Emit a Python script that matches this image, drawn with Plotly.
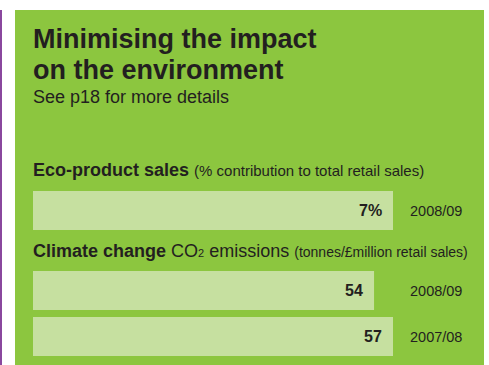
import plotly.graph_objects as go

# Eco-product sales, % contribution to total retail sales
eco_years = ["2008/09"]
eco_share = [7]

# Climate change: CO2 emissions, tonnes per £million retail sales
co2_years = ["2008/09", "2007/08"]
co2_tonnes = [54, 57]

W, H = 489, 365


def fx(px):
    return px / W


def fy(px):
    return 1 - px / H


PANEL = "#8CC63F"
BAR = "#C6E0A0"
INK = "#231F20"
PURPLE = "#8A479E"
FONT = "Liberation Sans, Arial, Helvetica, sans-serif"

fig = go.Figure()
fig.add_trace(go.Bar(
    x=eco_share, y=eco_years, orientation="h", xaxis="x", yaxis="y",
    marker=dict(color=BAR, line=dict(width=0)), hoverinfo="skip",
))
fig.add_trace(go.Bar(
    x=co2_tonnes, y=co2_years, orientation="h", xaxis="x2", yaxis="y2",
    marker=dict(color=BAR, line=dict(width=0)), hoverinfo="skip",
))

axis_off = dict(visible=False, showgrid=False, zeroline=False, fixedrange=True)
year_axis = dict(
    type="category", side="right", anchor="free", position=fx(409),
    showgrid=False, zeroline=False, showline=False, ticks="",
    tickfont=dict(family=FONT, size=14.5, color=INK), fixedrange=True,
)

fig.update_layout(
    width=W, height=H,
    margin=dict(l=0, r=0, t=0, b=0),
    paper_bgcolor="white", plot_bgcolor="rgba(0,0,0,0)",
    showlegend=False, bargap=7 / 46,
    font=dict(family=FONT, color=INK),
    xaxis=dict(domain=[fx(33), fx(393)], range=[0, max(eco_share)], anchor="y", **axis_off),
    xaxis2=dict(domain=[fx(33), fx(393)], range=[0, max(co2_tonnes)], anchor="y2", **axis_off),
    yaxis=dict(domain=[fy(233.5), fy(187.5)], **year_axis),
    yaxis2=dict(domain=[fy(359.5), fy(267.5)], autorange="reversed", **year_axis),
    shapes=[
        dict(type="rect", xref="paper", yref="paper", x0=fx(15), x1=fx(484), y0=0, y1=fy(10),
             fillcolor=PANEL, line=dict(width=0), layer="below"),
        dict(type="rect", xref="paper", yref="paper", x0=0, x1=fx(2), y0=0, y1=fy(10),
             fillcolor=PURPLE, line=dict(width=0), layer="below"),
    ],
)


def header(text, baseline, size):
    # centre of the text box sits ~0.35em above the baseline
    fig.add_annotation(
        text=text, xref="paper", yref="paper", x=fx(31), y=fy(baseline - 0.3465 * size),
        xanchor="left", yanchor="middle", showarrow=False, align="left",
        font=dict(family=FONT, size=size, color=INK),
    )


header("<b>Minimising the impact</b>", 48.5, 27)
header("<b>on the environment</b>", 79.5, 27)
header("See p18 for more details", 103, 18)
header("<b>Eco-product sales</b> <span style='font-size:15px'>(% contribution to total retail sales)</span>", 176, 18)
header("<b>Climate change</b> CO<span style='font-size:11px'>2</span> emissions "
       "<span style='font-size:14px'>(tonnes/£million retail sales)</span>", 257, 18)

# value labels at the end of each bar
for yr, v in zip(eco_years, eco_share):
    fig.add_annotation(x=v, y=yr, xref="x", yref="y", text=f"<b>{v}%</b>", showarrow=False,
                       xanchor="right", xshift=-9, font=dict(family=FONT, size=16, color=INK))
for yr, v in zip(co2_years, co2_tonnes):
    fig.add_annotation(x=v, y=yr, xref="x2", yref="y2", text=f"<b>{v}</b>", showarrow=False,
                       xanchor="right", xshift=-9, font=dict(family=FONT, size=16, color=INK))

fig.write_html("out.html")
